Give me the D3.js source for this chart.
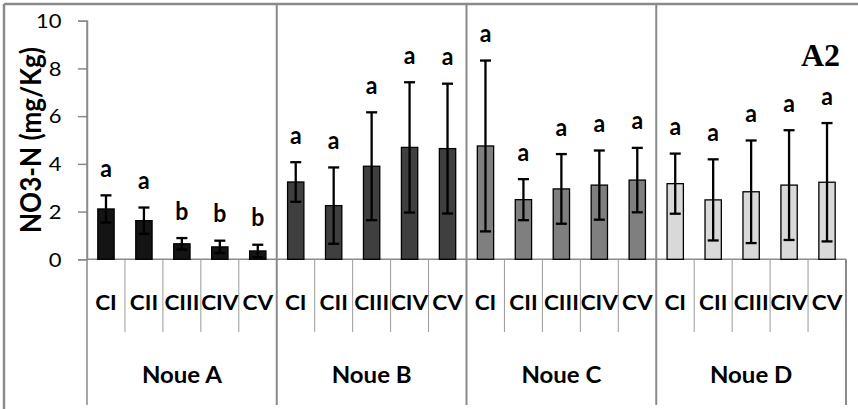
<!DOCTYPE html>
<html><head><meta charset="utf-8">
<script src="https://cdn.jsdelivr.net/npm/d3@7"></script>
<style>
html,body{margin:0;padding:0;background:#fff;}
svg{display:block;}
</style></head>
<body>
<svg id="chart" width="858" height="409"></svg>
<script>
// ---- data ----
const groups = ["Noue A","Noue B","Noue C","Noue D"];
const categories = ["CI","CII","CIII","CIV","CV"];
const meanA = [2.11,1.62,0.65,0.52,0.35];
const errA  = [0.57,0.55,0.24,0.26,0.26];
const letterA = ["a","a","b","b","b"];
const meanB = [3.24,2.25,3.90,4.69,4.64];
const errB  = [0.83,1.60,2.26,2.73,2.72];
const letterB = ["a","a","a","a","a"];
const meanC = [4.75,2.50,2.95,3.11,3.32];
const errC  = [3.58,0.86,1.46,1.45,1.35];
const letterC = ["a","a","a","a","a"];
const meanD = [3.17,2.49,2.83,3.11,3.23];
const errD  = [1.26,1.70,2.15,2.30,2.48];
const letterD = ["a","a","a","a","a"];
const yTicks = [0,2,4,6,8,10];
const yTitle = "NO3-N (mg/Kg)";
const panelLabel = "A2";

(function(){
const means = [meanA,meanB,meanC,meanD];
const errs = [errA,errB,errC,errD];
const letters = [letterA,letterB,letterC,letterD];
const fills = ["#141414","#3f3f3f","#7f7f7f","#d9d9d9"];

const rows = [];
groups.forEach((g,gi)=>categories.forEach((c,ci)=>rows.push({
  g, gi, c, ci, v: means[gi][ci], e: errs[gi][ci], l: letters[gi][ci]
})));

const FONT = "Lato, 'Open Sans', sans-serif";
const svg = d3.select("#chart");
const pL = 87, pR = 846, pT = 20.7, pB = 259.3;
const gray = "#8a8a8a";

// horizontal scale so that `str` at given size/weight has width `target`
function xScaleFor(str, size, weight, target){
  const t = svg.append("text").attr("font-family",FONT).attr("font-size",size)
    .attr("font-weight",weight).text(str);
  const w = t.node().getComputedTextLength();
  t.remove();
  return w>0 ? target/w : 1;
}

const xGroup = d3.scaleBand().domain(groups).range([pL,pR]).padding(0);
const xCat = d3.scaleBand().domain(categories).range([0,xGroup.bandwidth()]).padding(0);
const y = d3.scaleLinear().domain([0,10]).range([pB,pT]);
const cx = d => xGroup(d.g) + xCat(d.c) + xCat.bandwidth()/2;
const barW = xCat.bandwidth()*0.43;
const capW = 11;

// frame (top & left)
svg.append("line").attr("x1",4).attr("x2",858).attr("y1",4).attr("y2",4)
  .attr("stroke",gray).attr("stroke-width",2.5);
svg.append("line").attr("x1",4).attr("x2",4).attr("y1",4).attr("y2",409)
  .attr("stroke",gray).attr("stroke-width",2.5);

// y axis
const tickSize = 18.6;
const tsx = xScaleFor("10", tickSize, "normal", 25.5);
const yAxis = svg.append("g").attr("transform",`translate(${pL},0)`)
  .call(d3.axisLeft(y).tickValues(yTicks).tickSize(9).tickPadding(16).tickFormat(d3.format("d")));
yAxis.select(".domain").attr("stroke",gray).attr("stroke-width",1.5);
yAxis.selectAll(".tick line").attr("stroke",gray).attr("stroke-width",1.5);
yAxis.selectAll(".tick text").attr("font-family",FONT).attr("font-size",tickSize)
  .attr("fill","#000").attr("x",-25.5/tsx).attr("dy","0.36em").attr("transform",`scale(${tsx},1)`);

// x baseline
svg.append("line").attr("x1",pL).attr("x2",pR).attr("y1",pB).attr("y2",pB)
  .attr("stroke",gray).attr("stroke-width",1.5);

// group separators
const gEdges = groups.map(g=>xGroup(g)).concat([pR]);
gEdges.forEach((x,i)=>{
  const y1 = i===0 ? pT : (i===gEdges.length-1 ? pB : 4);
  svg.append("line").attr("x1",x).attr("x2",x).attr("y1",y1).attr("y2",405)
    .attr("stroke",gray).attr("stroke-width",i===0?1.5:2);
});
// category separators
groups.forEach(g=>categories.slice(1).forEach(c=>{
  const x = xGroup(g)+xCat(c);
  svg.append("line").attr("x1",x).attr("x2",x).attr("y1",pB).attr("y2",332)
    .attr("stroke","#9a9a9a").attr("stroke-width",1);
}));

// bars
svg.append("g").selectAll("rect").data(rows).join("rect")
  .attr("x",d=>cx(d)-barW/2).attr("width",barW)
  .attr("y",d=>y(d.v)).attr("height",d=>pB-y(d.v))
  .attr("fill",d=>fills[d.gi]).attr("stroke","#000").attr("stroke-width",1.3);

// error bars
const eb = svg.append("g").attr("stroke","#000").attr("stroke-width",2.3);
eb.selectAll("line.v").data(rows).join("line").attr("class","v")
  .attr("x1",cx).attr("x2",cx).attr("y1",d=>y(d.v+d.e)).attr("y2",d=>y(d.v-d.e));
eb.selectAll("line.t").data(rows).join("line").attr("class","t")
  .attr("x1",d=>cx(d)-capW/2).attr("x2",d=>cx(d)+capW/2).attr("y1",d=>y(d.v+d.e)).attr("y2",d=>y(d.v+d.e));
eb.selectAll("line.b").data(rows).join("line").attr("class","b")
  .attr("x1",d=>cx(d)-capW/2).attr("x2",d=>cx(d)+capW/2).attr("y1",d=>y(d.v-d.e)).attr("y2",d=>y(d.v-d.e));

// significance letters
const lsx = xScaleFor("a", 24, "bold", 11.7);
svg.append("g").selectAll("text").data(rows).join("text")
  .attr("transform",d=>`translate(${cx(d)},${y(d.v+d.e)-18.5}) scale(${lsx},1)`)
  .attr("text-anchor","middle").attr("font-family",FONT)
  .attr("font-weight","bold").attr("font-size",24).text(d=>d.l);

// category labels
const catSize = 21;
const csx = xScaleFor("CIII", catSize, "bold", 35);
svg.append("g").selectAll("text").data(rows).join("text")
  .attr("transform",d=>`translate(${cx(d)},310) scale(${csx},1)`)
  .attr("text-anchor","middle").attr("font-family",FONT)
  .attr("font-weight","bold").attr("font-size",catSize).text(d=>d.c);

// group labels
const grpSize = 23;
const gsx = xScaleFor("Noue A", grpSize, "bold", 80);
svg.append("g").selectAll("text").data(groups).join("text")
  .attr("transform",g=>`translate(${xGroup(g)+xGroup.bandwidth()/2},382.5) scale(${gsx},1)`)
  .attr("text-anchor","middle").attr("font-family",FONT)
  .attr("font-weight","bold").attr("font-size",grpSize).text(g=>g);

// y title
const titleSize = 28;
const ttx = xScaleFor(yTitle, titleSize, "bold", 186);
svg.append("text").attr("transform",`translate(40.5,140) rotate(-90) scale(${ttx},1)`)
  .attr("text-anchor","middle").attr("font-family",FONT)
  .attr("font-weight","bold").attr("font-size",titleSize).text(yTitle);

// panel label
svg.append("text").attr("x",840).attr("y",66).attr("text-anchor","end")
  .attr("font-family","'Liberation Serif', serif").attr("font-weight","bold")
  .attr("font-size",32).text(panelLabel);
})();
</script>
</body></html>
